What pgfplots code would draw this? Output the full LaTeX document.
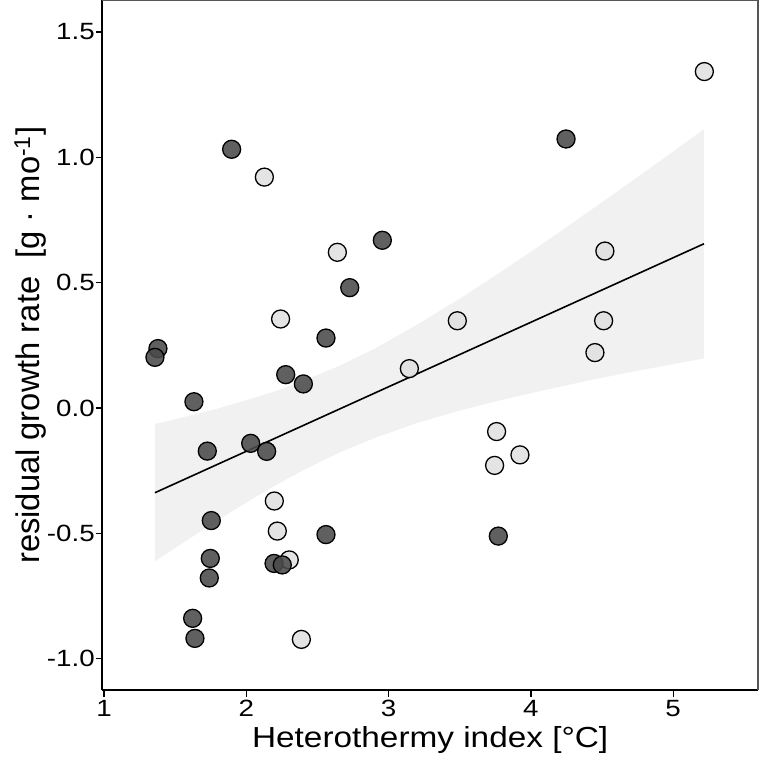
\documentclass[border=0pt]{standalone}
\usepackage{pgfplots}
\pgfplotsset{compat=1.18}
\usepackage{fontspec}
\setmainfont{Liberation Sans}
\definecolor{darkpt}{HTML}{4A4A4A}
\definecolor{lightpt}{HTML}{E0E0E0}
\definecolor{bandgray}{HTML}{F1F1F1}
\definecolor{topspine}{HTML}{555555}
\begin{document}
\begin{tikzpicture}
\begin{axis}[
  at={(0,0)}, anchor=south west,
  scale only axis, width=655.6bp, height=689.5bp,
  xmin=0.9888, xmax=5.596, ymin=-1.1249, ymax=1.6255,
  axis x line*=bottom, axis y line*=left,
  axis line style={line width=2bp, black},
  tick align=outside, major tick length=6.5bp,
  tick style={line width=1.3bp, black},
  xtick={1,2,3,4,5},
  ytick={-1,-0.5,0,0.5,1,1.5},
  /pgf/number format/assume math mode=true,
  /pgf/number format/.cd, fixed, fixed zerofill, precision=1, /pgfplots/.cd,
  xticklabel={\scalebox{1.18}[1]{\pgfmathprintnumber[precision=0,fixed zerofill=false]{\tick}}},
  yticklabel={\scalebox{1.18}[1]{\pgfmathprintnumber{\tick}}},
  ticklabel style={font=\fontsize{23.5bp}{28bp}\selectfont},
  yticklabel style={inner sep=1bp},
  xlabel={\scalebox{1.15}[1]{Heterothermy index [°C]}},
  xlabel style={font=\fontsize{29bp}{34bp}\selectfont, at={(axis description cs:0.5,-0.0831)}, anchor=base},
  ylabel={residual growth rate \ [g · mo\textsuperscript{-1}]},
  ylabel style={font=\fontsize{32.7bp}{38bp}\selectfont, at={(axis description cs:-0.0967,0.5)}, anchor=base},
  clip=false,
]
% confidence band
\addplot[fill=bandgray, draw=none] coordinates {
(1.358,-0.612) (1.6,-0.521) (1.8,-0.448) (2.0,-0.377) (2.2,-0.310) (2.4,-0.248)
(2.65,-0.179) (2.9,-0.120) (3.2,-0.060) (3.5,-0.010) (3.8,0.033) (4.1,0.072)
(4.4,0.109) (4.7,0.143) (5.0,0.175) (5.216,0.198)
(5.216,1.112) (5.0,1.023) (4.7,0.901) (4.4,0.781) (4.1,0.662) (3.8,0.547)
(3.5,0.436) (3.2,0.332) (2.9,0.236) (2.65,0.167) (2.4,0.108) (2.2,0.066)
(2.0,0.031) (1.8,-0.002) (1.6,-0.031) (1.358,-0.064)
} -- cycle;
% regression line
\addplot[black, line width=1.6bp] coordinates {(1.358,-0.338) (5.216,0.655)};
% light points
\addplot[only marks, mark=*, mark size=9bp,
  mark options={fill=lightpt, draw=black, line width=1.3bp, fill opacity=0.88}] table {
x y
2.127 0.921
2.640 0.621
2.241 0.355
5.219 1.342
4.520 0.626
3.483 0.348
4.511 0.348
4.450 0.221
3.146 0.157
3.759 -0.094
3.923 -0.187
3.745 -0.229
2.197 -0.371
2.218 -0.491
2.302 -0.606
2.387 -0.923
};
% dark points
\addplot[only marks, mark=*, mark size=9bp,
  mark options={fill=darkpt, draw=black, line width=1.3bp, fill opacity=0.88}] table {
x y
1.897 1.032
2.956 0.669
2.727 0.480
2.560 0.279
1.379 0.237
1.358 0.202
2.277 0.133
2.401 0.096
1.632 0.025
4.247 1.073
3.771 -0.511
1.726 -0.172
2.031 -0.141
2.143 -0.173
1.754 -0.449
2.560 -0.505
1.747 -0.600
1.740 -0.678
2.195 -0.620
2.253 -0.626
1.623 -0.839
1.639 -0.919
};
\draw[line width=1.6bp, topspine] (rel axis cs:0,1) -- (rel axis cs:1,1) -- (rel axis cs:1,0);
\end{axis}
\pgfresetboundingbox
\useasboundingbox (-102.4bp,-67bp) rectangle (657.6bp,690bp);
\end{tikzpicture}
\end{document}
